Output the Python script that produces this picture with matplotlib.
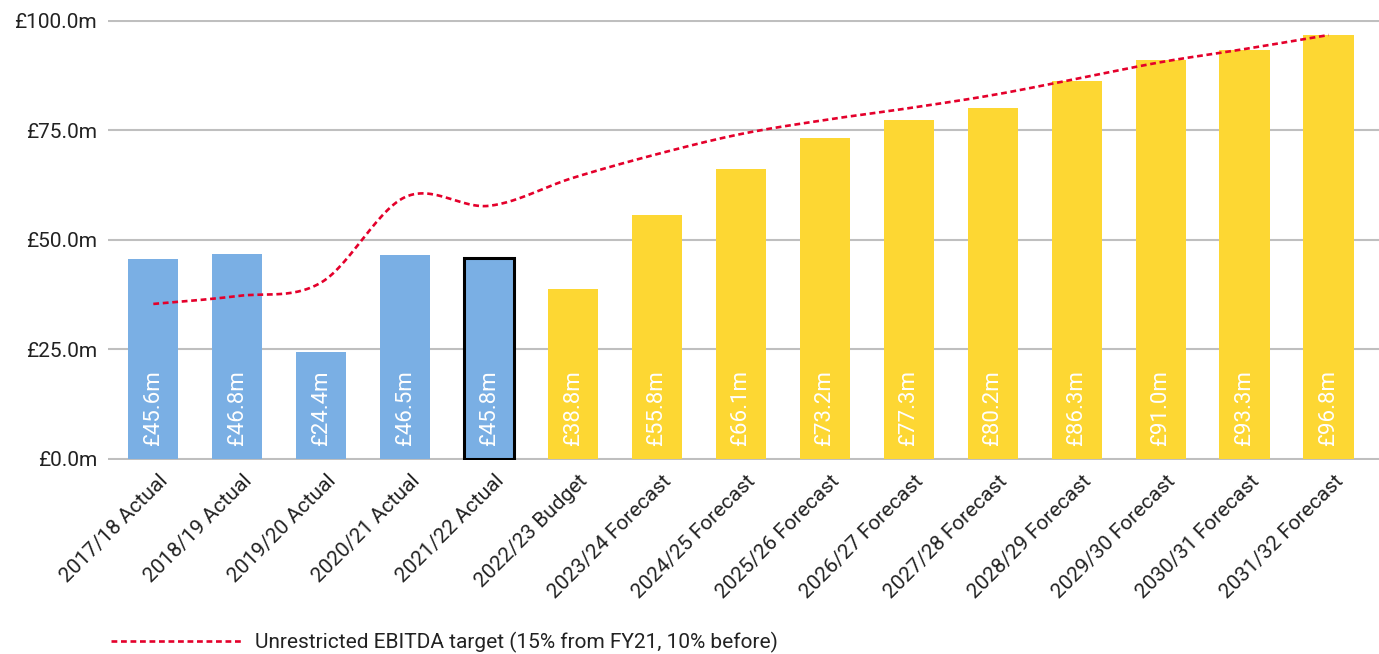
import numpy as np
import matplotlib
matplotlib.use("Agg")
import matplotlib.pyplot as plt
import matplotlib.transforms as mtransforms

plt.rcParams['font.family'] = ['Roboto', 'DejaVu Sans']

# dados
anos = ['2017/18 Actual', '2018/19 Actual', '2019/20 Actual', '2020/21 Actual', '2021/22 Actual',
        '2022/23 Budget', '2023/24 Forecast', '2024/25 Forecast', '2025/26 Forecast', '2026/27 Forecast',
        '2027/28 Forecast', '2028/29 Forecast', '2029/30 Forecast', '2030/31 Forecast', '2031/32 Forecast']
ebitda = [45.6, 46.8, 24.4, 46.5, 45.8, 38.8, 55.8, 66.1, 73.2, 77.3, 80.2, 86.3, 91.0, 93.3, 96.8]
alvo = [35.4, 37.2, 40.3, 59.8, 57.8, 64.2, 69.6, 74.2, 77.4, 80.1, 83.1, 86.8, 90.6, 93.6, 96.8]
legenda = 'Unrestricted EBITDA target (15% from FY21, 10% before)'

azul = '#7AAFE4'
amarelo = '#FDD733'
vermelho = '#E4002B'
cinza = '#BFBFBF'

fig = plt.figure(figsize=(13.79, 6.54), dpi=100)
ax = fig.add_axes([0.0783, 0.2962, 0.9217, 0.6737])

x = np.arange(len(anos))
cores = [azul if 'Actual' in a else amarelo for a in anos]
barras = ax.bar(x, ebitda, width=0.6, color=cores, zorder=2)
barras[4].set_edgecolor('black')
barras[4].set_linewidth(2.2)

# rótulos dentro das barras
for xi, v in zip(x, ebitda):
    ax.annotate(f'£{v:.1f}m', (xi, 0), xytext=(0, 9), textcoords='offset points',
                rotation=90, ha='center', va='bottom', color='white',
                fontsize=16, fontweight='normal', zorder=3)

# linha suavizada (estilo Excel, bezier)
px = np.concatenate([[x[0]], x, [x[-1]]]).astype(float)
py = np.concatenate([[alvo[0]], alvo, [alvo[-1]]])
cx, cy = [], []
t = np.linspace(0, 1, 30)
for i in range(1, len(px) - 2):
    p0 = np.array([px[i], py[i]])
    p3 = np.array([px[i + 1], py[i + 1]])
    p1 = p0 + (np.array([px[i + 1], py[i + 1]]) - np.array([px[i - 1], py[i - 1]])) / 6
    p2 = p3 - (np.array([px[i + 2], py[i + 2]]) - np.array([px[i], py[i]])) / 6
    b = ((1 - t) ** 3)[:, None] * p0 + (3 * (1 - t) ** 2 * t)[:, None] * p1 \
        + (3 * (1 - t) * t ** 2)[:, None] * p2 + (t ** 3)[:, None] * p3
    cx.extend(b[:, 0])
    cy.extend(b[:, 1])
linha, = ax.plot(cx, cy, color=vermelho, linewidth=1.9, dashes=(2.2, 1.4), zorder=4, label=legenda)

ax.set_xlim(-0.54, 14.6)
ax.set_ylim(-0.3, 100.3)
ax.set_yticks([0, 25, 50, 75, 100])
ax.set_yticklabels([f'£{v:.1f}m' for v in [0, 25, 50, 75, 100]], fontsize=15, color='#222222')
ax.yaxis.grid(True, color=cinza, linewidth=1.5, zorder=0)
ax.set_axisbelow(True)
ax.set_xticks(x)
ax.set_xticklabels(anos, rotation=45, ha='right', rotation_mode='anchor', fontsize=15, color='#222222')
ax.tick_params(length=0)
ax.tick_params(axis='y', pad=8)
ax.tick_params(axis='x', pad=8)
for s in ax.spines.values():
    s.set_visible(False)

# pequeno deslocamento para a direita dos rótulos do eixo x
desloc = mtransforms.ScaledTranslation(5 / 100, 0, fig.dpi_scale_trans)
for lbl in ax.get_xticklabels():
    lbl.set_transform(lbl.get_transform() + desloc)

fig.legend(handles=[linha], loc='center left', bbox_to_anchor=(0.067, 0.018), frameon=False,
           fontsize=15, handlelength=6.3, handletextpad=0.6, labelcolor='#222222')

fig.savefig('out.png', dpi=100)
